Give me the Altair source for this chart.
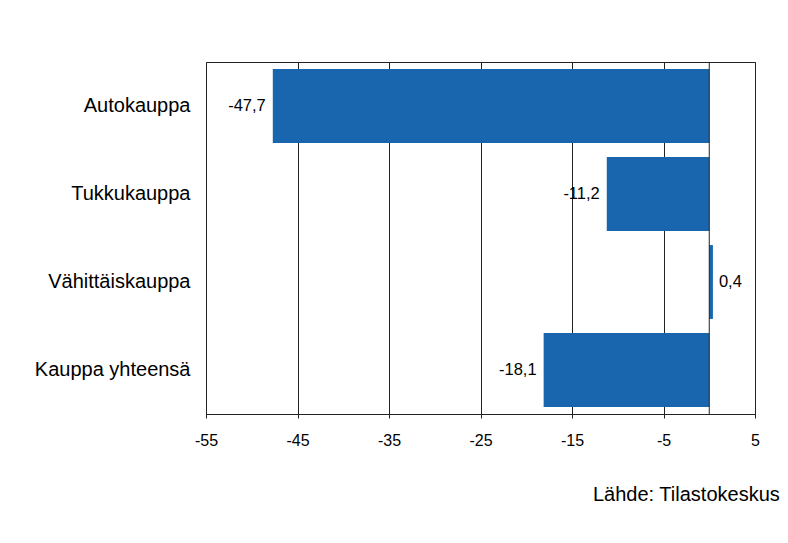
import altair as alt
import pandas as pd

categories = ["Autokauppa", "Tukkukauppa", "Vähittäiskauppa", "Kauppa yhteensä"]
values = [-47.7, -11.2, 0.4, -18.1]
value_labels = ["-47,7", "-11,2", "0,4", "-18,1"]
x_ticks = [-55, -45, -35, -25, -15, -5, 5]
source_text = ["Lähde: Tilastokeskus"]

FONT = "Liberation Sans"
BAR = "#1a66ae"

df = pd.DataFrame({"category": categories, "value": values, "label": value_labels})

x_enc = alt.X(
    "value:Q",
    scale=alt.Scale(domain=[-55, 5], nice=False, zero=False),
    axis=alt.Axis(
        values=x_ticks,
        labelExpr="datum.value + ''",
        title=None,
        grid=True,
        gridColor="#222222",
        gridOpacity=1,
        domainColor="#222222",
        tickColor="#222222",
        tickSize=4,
        labelFontSize=16,
        labelFont=FONT,
        labelColor="#000000",
        labelPadding=14,
        labelFlush=False,
    ),
)
y_enc = alt.Y(
    "category:N",
    sort=categories,
    scale=alt.Scale(paddingInner=0.16, paddingOuter=0.08),
    axis=alt.Axis(
        title=None,
        ticks=False,
        domain=False,
        labelFontSize=20,
        labelFont=FONT,
        labelColor="#000000",
        labelPadding=16,
    ),
)

base = alt.Chart(df)

bars = base.mark_bar(color=BAR).encode(x=x_enc, y=y_enc)

neg_text = base.transform_filter("datum.value < 0").mark_text(
    align="right", baseline="middle", dx=-7, fontSize=16.5, font=FONT, color="#000000"
).encode(x="value:Q", y=alt.Y("category:N", sort=categories), text="label:N")

pos_text = base.transform_filter("datum.value >= 0").mark_text(
    align="left", baseline="middle", dx=6, fontSize=16.5, font=FONT, color="#000000"
).encode(x="value:Q", y=alt.Y("category:N", sort=categories), text="label:N")

zero_rule = alt.Chart(pd.DataFrame({"z": [0]})).mark_rule(color="#222222", strokeWidth=1).encode(x="z:Q")

source = alt.Chart(pd.DataFrame({"t": source_text})).mark_text(
    align="left", baseline="middle", fontSize=20, font=FONT, color="#000000"
).encode(x=alt.value(387), y=alt.value(433), text="t:N")

chart = (
    alt.layer(bars, zero_rule, neg_text, pos_text, source)
    .properties(
        width=549,
        height=352,
        autosize=alt.AutoSizeParams(type="none"),
        padding={"left": 198, "top": 54, "right": 25, "bottom": 105},
        background="#ffffff",
    )
    .configure_view(stroke="#222222", strokeWidth=1)
)

chart.save("out.html", embed_options={"renderer": "svg", "actions": False})
